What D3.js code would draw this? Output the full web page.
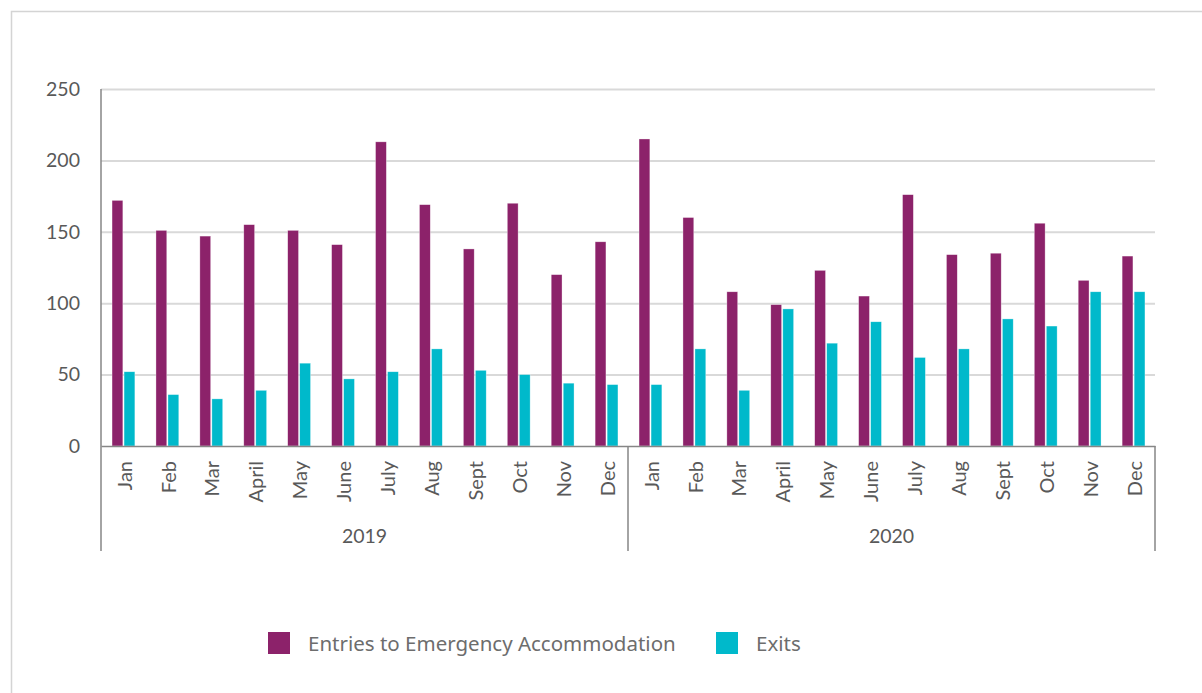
<!DOCTYPE html>
<html>
<head>
<meta charset="utf-8">
<script src="https://cdn.jsdelivr.net/npm/d3@7"></script>
<style>
  html, body { margin: 0; padding: 0; background: #fff; }
  svg { display: block; }
</style>
</head>
<body>
<svg id="chart" width="1202" height="693"></svg>
<script>
// Monthly entries to and exits from emergency accommodation, 2019–2020
const years = ["2019", "2020"];
const months = ["Jan", "Feb", "Mar", "April", "May", "June", "July", "Aug", "Sept", "Oct", "Nov", "Dec"];
const entries2019 = [172, 151, 147, 155, 151, 141, 213, 169, 138, 170, 120, 143];
const exits2019   = [52, 36, 33, 39, 58, 47, 52, 68, 53, 50, 44, 43];
const entries2020 = [215, 160, 108, 99, 123, 105, 176, 134, 135, 156, 116, 133];
const exits2020   = [43, 68, 39, 96, 72, 87, 62, 68, 89, 84, 108, 108];
const yTicks = [0, 50, 100, 150, 200, 250];
const seriesNames = ["Entries to Emergency Accommodation", "Exits"];
const seriesColors = ["#8C226A", "#00B9CB"];

const entries = entries2019.concat(entries2020);
const exits = exits2019.concat(exits2020);
const rows = [];
years.forEach((yr, yi) => months.forEach((m, mi) => {
  const i = yi * months.length + mi;
  rows.push({ key: yr + "-" + m, year: yr, month: m, values: [entries[i], exits[i]] });
}));

const svg = d3.select("#chart");
const textColor = "#595959";
const axisFont = "Lato, 'Open Sans', sans-serif";

// Outer frame
svg.append("rect")
  .attr("x", 11.5).attr("y", 11.5)
  .attr("width", 1210).attr("height", 700)
  .attr("fill", "none").attr("stroke", "#d4d4d4").attr("stroke-width", 1.5);

const plot = { left: 101, right: 1155, top: 89, bottom: 446 };

const y = d3.scaleLinear().domain([0, 250]).range([plot.bottom, plot.top]);
const x0 = d3.scaleBand()
  .domain(rows.map(d => d.key))
  .range([plot.left, plot.right])
  .paddingInner(0.48)
  .paddingOuter(0.24);
const x1 = d3.scaleBand()
  .domain([0, 1])
  .range([0, x0.bandwidth()])
  .paddingInner(0.1);

// Horizontal gridlines
const yAxis = d3.axisLeft(y)
  .tickValues(yTicks)
  .tickSize(-(plot.right - plot.left))
  .tickPadding(21)
  .tickFormat(d3.format("d"));
const gy = svg.append("g")
  .attr("transform", `translate(${plot.left},0)`)
  .call(yAxis);
gy.select(".domain").remove();
gy.selectAll(".tick line")
  .attr("stroke", "#d9d9d9").attr("stroke-width", 2)
  .filter(d => d === 0).remove();
gy.selectAll(".tick text")
  .attr("fill", textColor)
  .style("font-family", axisFont)
  .style("font-size", "19.5px");

// Bars
const groups = svg.append("g").selectAll("g")
  .data(rows).join("g")
  .attr("transform", d => `translate(${x0(d.key) + 0.5},0)`);
groups.selectAll("rect")
  .data(d => d.values.map((v, s) => ({ v, s })))
  .join("rect")
  .attr("x", d => x1(d.s))
  .attr("width", x1.bandwidth())
  .attr("y", d => y(d.v))
  .attr("height", d => y(0) - y(d.v))
  .attr("fill", d => seriesColors[d.s])
  .attr("stroke", "rgba(255,255,255,0.55)")
  .attr("stroke-width", 0.6);

// Vertical value axis line
svg.append("line")
  .attr("x1", plot.left).attr("x2", plot.left)
  .attr("y1", plot.top).attr("y2", plot.bottom)
  .attr("stroke", "#868686").attr("stroke-width", 1.5);

// Category axis with month labels
const xAxis = d3.axisBottom(x0).tickSize(0).tickFormat(k => k.split("-")[1]);
const gx = svg.append("g")
  .attr("transform", `translate(0,${plot.bottom})`)
  .call(xAxis);
gx.select(".domain").attr("stroke", "#868686").attr("stroke-width", 1.5);
gx.selectAll(".tick text")
  .attr("fill", textColor)
  .style("font-family", axisFont)
  .style("font-size", "20px")
  .attr("text-anchor", "end")
  .attr("dy", "0.36em")
  .attr("transform", "translate(1.5,15) rotate(-90)")
  .attr("x", 0).attr("y", 0);

// Year group separators and labels
const step = x0.step();
const yearBounds = years.map((yr, yi) => ({
  yr,
  x0: plot.left + step * yi * months.length,
  x1: plot.left + step * (yi + 1) * months.length
}));
const sepXs = [plot.left].concat(yearBounds.map(b => b.x1));
svg.append("g").selectAll("line")
  .data(sepXs).join("line")
  .attr("x1", d => d).attr("x2", d => d)
  .attr("y1", plot.bottom).attr("y2", 551)
  .attr("stroke", "#868686").attr("stroke-width", 1.5);
svg.append("g").selectAll("text")
  .data(yearBounds).join("text")
  .attr("x", d => (d.x0 + d.x1) / 2)
  .attr("y", 543)
  .attr("text-anchor", "middle")
  .attr("fill", textColor)
  .style("font-family", axisFont)
  .style("font-size", "19.5px")
  .text(d => d.yr);

// Legend
const legendItems = [
  { name: seriesNames[0], color: seriesColors[0], x: 268 },
  { name: seriesNames[1], color: seriesColors[1], x: 716 }
];
const lg = svg.append("g").selectAll("g")
  .data(legendItems).join("g")
  .attr("transform", d => `translate(${d.x},632)`);
lg.append("rect")
  .attr("width", 22).attr("height", 22)
  .attr("fill", d => d.color);
lg.append("text")
  .attr("x", 40)
  .attr("y", 18.5)
  .attr("fill", "#6d6d6d")
  .style("font-family", "'Noto Sans', 'Open Sans', sans-serif")
  .style("font-size", "20.5px")
  .text(d => d.name);
</script>
</body>
</html>
